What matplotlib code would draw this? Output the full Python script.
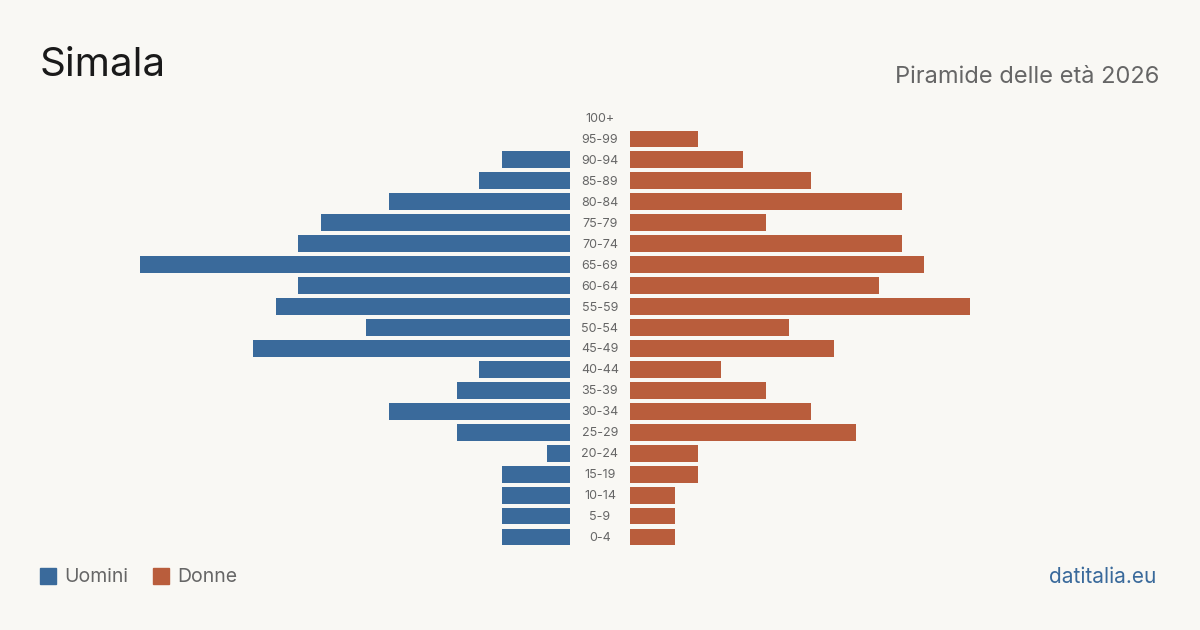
import matplotlib.pyplot as plt
import numpy as np

plt.rcParams['font.family'] = ['Inter', 'DejaVu Sans']

age_groups = ['0-4', '5-9', '10-14', '15-19', '20-24', '25-29', '30-34', '35-39',
              '40-44', '45-49', '50-54', '55-59', '60-64', '65-69', '70-74',
              '75-79', '80-84', '85-89', '90-94', '95-99', '100+']
uomini = [3, 3, 3, 3, 1, 5, 8, 5, 4, 14, 9, 13, 12, 19, 12, 11, 8, 4, 3, 0, 0]
donne = [2, 2, 2, 3, 3, 10, 8, 6, 4, 9, 7, 15, 11, 13, 12, 6, 12, 8, 5, 3, 0]

BG = '#f9f8f4'
BLUE = '#3a6a9b'
RED = '#b95d3c'
GREY = '#666666'

W, H = 1200, 630
fig = plt.figure(figsize=(W / 100, H / 100), dpi=100, facecolor=BG)


def px(x0, y0, x1, y1):
    # pixel box -> figure fraction rect
    return [x0 / W, 1 - y1 / H, (x1 - x0) / W, (y1 - y0) / H]


xmax = 23.4
y = np.arange(len(age_groups))

ax_m = fig.add_axes(px(40, 107.5, 570, 547.5))
ax_f = fig.add_axes(px(630, 107.5, 1160, 547.5))

ax_m.barh(y, uomini, height=0.8, color=BLUE)
ax_m.set_xlim(xmax, 0)
ax_f.barh(y, donne, height=0.8, color=RED)
ax_f.set_xlim(0, xmax)

for ax in (ax_m, ax_f):
    ax.set_ylim(-0.5, len(age_groups) - 0.5)
    ax.set_facecolor('none')
    ax.axis('off')

for i, lab in enumerate(age_groups):
    ax_f.annotate(lab, xy=(0, i), xycoords='data', xytext=(-30, -1),
                  textcoords='offset pixels', ha='center', va='center',
                  fontsize=9, color=GREY, annotation_clip=False)

fig.text(40 / W, 1 - 66 / H, 'Simala', fontsize=29, color='#1a1a1a',
         ha='left', va='center')
fig.text(1159 / W, 1 - 77 / H, 'Piramide delle età 2026', fontsize=17,
         color=GREY, ha='right', va='center')

# legend
for x0, col, lab in [(40, BLUE, 'Uomini'), (153, RED, 'Donne')]:
    fig.patches.append(plt.Rectangle((x0 / W, 1 - 584 / H), 16 / W, 16 / H,
                                     transform=fig.transFigure, color=col))
    fig.text((x0 + 24) / W, 1 - 577 / H, lab, fontsize=14, color=GREY,
             ha='left', va='center')

fig.text(1156 / W, 1 - 577 / H, 'datitalia.eu', fontsize=15, color=BLUE,
         ha='right', va='center')

fig.savefig('out.png', dpi=100, facecolor=BG)
